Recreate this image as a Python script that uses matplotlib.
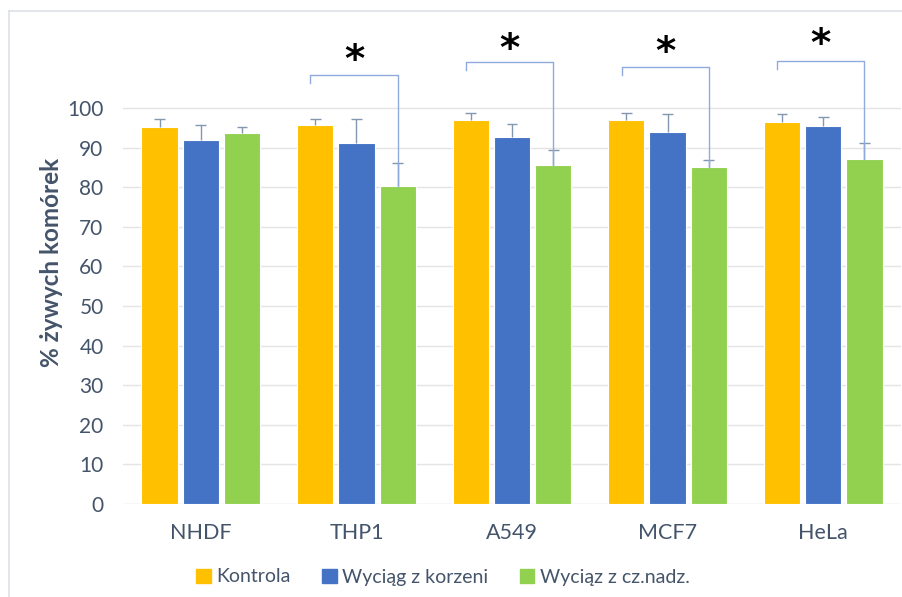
import matplotlib
matplotlib.use("Agg")
import matplotlib.pyplot as plt
from matplotlib.lines import Line2D
from matplotlib.patches import Patch
import numpy as np

plt.rcParams["font.family"] = ["Lato", "DejaVu Sans"]

cell_lines = ["NHDF", "THP1", "A549", "MCF7", "HeLa"]
series_names = ["Kontrola", "Wyciąg z korzeni", "Wyciąz z cz.nadz."]

kontrola = [95.1, 95.7, 97.0, 96.9, 96.5]
kontrola_err = [2.1, 1.4, 1.8, 1.9, 1.9]
korzenie = [91.9, 91.2, 92.6, 93.9, 95.5]
korzenie_err = [3.8, 5.9, 3.4, 4.5, 2.3]
cz_nadz = [93.7, 80.4, 85.7, 85.0, 87.0]
cz_nadz_err = [1.4, 5.8, 3.7, 1.8, 4.2]

# significance brackets: category index, bracket height, star height
sig_idx = [1, 2, 3, 4]
sig_bracket = [108.3, 111.5, 110.3, 111.9]
sig_star = [111.8, 114.6, 113.8, 115.9]

colors = ["#FFC000", "#4472C4", "#92D050"]
text_col = "#44546A"
err_col = "#8497B0"
bracket_col = "#8FAADC"

fig = plt.figure(figsize=(9.02, 5.97), dpi=100)
ax = fig.add_axes([123 / 902, 1 - 504 / 597, 778 / 902, 484 / 597])

x = np.arange(len(cell_lines))
width = 0.233
step = 0.265
cap = 0.035
groups = [(kontrola, kontrola_err), (korzenie, korzenie_err), (cz_nadz, cz_nadz_err)]
for i, (vals, errs) in enumerate(groups):
    pos = x + (i - 1) * step
    vals = np.array(vals)
    tops = vals + np.array(errs)
    ax.bar(pos, vals, width, color=colors[i], edgecolor="white", linewidth=0.8,
           zorder=3, label=series_names[i])
    # upper-only error bars
    ax.vlines(pos, vals, tops, color=err_col, lw=1, zorder=4)
    ax.hlines(tops, pos - cap, pos + cap, color=err_col, lw=1, zorder=4)

for idx, yb, ys in zip(sig_idx, sig_bracket, sig_star):
    left = idx - step - 0.03
    right = idx + step
    ax.plot([left, left, right, right], [yb - 2, yb, yb, cz_nadz[idx]],
            color=bracket_col, lw=1, zorder=5)
    ax.text((left + right) / 2, ys, "*", ha="center", va="center",
            fontsize=28, fontweight="bold", color="black", family="DejaVu Sans")

ax.set_xlim(-0.5, 4.5)
ax.set_ylim(0, 122.2)
ax.set_yticks(range(0, 101, 10))
ax.set_xticks(x)
ax.set_xticklabels(cell_lines)
ax.tick_params(axis="both", length=0, labelsize=15, colors=text_col)
ax.tick_params(axis="y", pad=14)
ax.tick_params(axis="x", labelsize=15.5, pad=14)
for s in ax.spines.values():
    s.set_visible(False)
for v in range(0, 101, 10):
    ax.axhline(v, color="#E4E4E4" if v else "#D9D9D9", lw=1, zorder=0)

ax.set_ylabel("% żywych komórek", fontsize=17.5, fontweight="bold",
              color=text_col, labelpad=3)

handles = [Patch(color=c) for c in colors]
fig.legend(handles, series_names, loc="center", bbox_to_anchor=(443 / 902, 1 - 577 / 597),
           ncol=3, frameon=False, fontsize=14, handlelength=0.75, handleheight=0.75,
           handletextpad=0.3, columnspacing=1.6, labelcolor=text_col)

# outer chart frame (top and left edges)
fig.add_artist(Line2D([8.5 / 902, 1], [1 - 10.5 / 597, 1 - 10.5 / 597],
                      color="#DDE1E6", lw=1.2))
fig.add_artist(Line2D([8.5 / 902, 8.5 / 902], [0, 1 - 10.5 / 597],
                      color="#DDE1E6", lw=1.2))

fig.savefig("out.png", dpi=100)
